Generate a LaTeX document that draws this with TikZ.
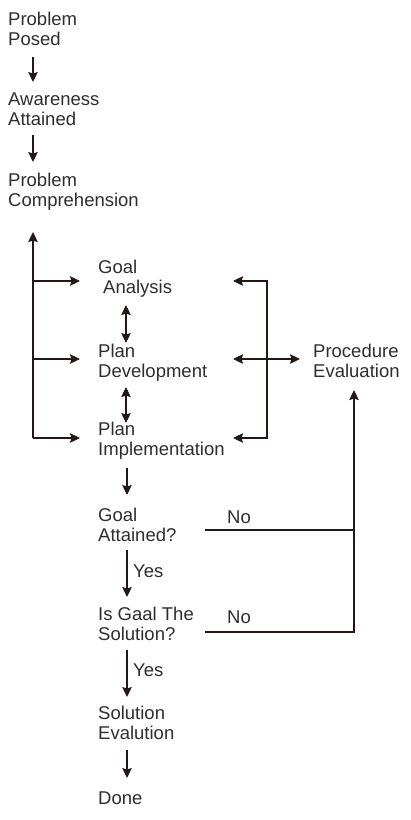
\documentclass[tikz,border=0pt]{standalone}
\usepackage{fontspec}
\setmainfont{Liberation Sans}
\usetikzlibrary{arrows.meta}
\definecolor{ink}{HTML}{231815}
\definecolor{txt}{HTML}{2E2E2E}
\newcommand\twolines[2]{\vtop{\hbox{#1}\hbox{#2}}}
\tikzset{
  lbl/.style={anchor=base west, inner sep=0pt, text=txt,
    font=\fontsize{18.5}{20.5}\selectfont},
  tip/.tip={Stealth[length=10pt,width=9.5pt,inset=1.5pt]},
  arr/.style={draw=ink, line width=1.3pt, -tip},
  darr/.style={draw=ink, line width=1.3pt, tip-tip},
  ln/.style={draw=ink, line width=1.3pt}
}
\begin{document}
\begin{tikzpicture}[x=1pt,y=-1pt]
\useasboundingbox[fill=white] (0,0) rectangle (410,820);
% nodes
\node[lbl] (pp)  at (8,25)   {\twolines{Problem}{Posed}};
\node[lbl] (aa)  at (8,105)  {\twolines{Awareness}{Attained}};
\node[lbl] (pc)  at (8,186)  {\twolines{Problem}{Comprehension}};
\node[lbl] (ga)  at (98,273) {\twolines{Goal}{\hspace*{5pt}Analysis}};
\node[lbl] (pd)  at (98,357) {\twolines{Plan}{Development}};
\node[lbl] (pi)  at (98,435) {\twolines{Plan}{Implementation}};
\node[lbl] (pe)  at (313,357) {\twolines{Procedure}{Evaluation}};
\node[lbl] (gat) at (98,521) {\twolines{Goal}{Attained?}};
\node[lbl] (gs)  at (98,620) {\twolines{Is Gaal The}{Solution?}};
\node[lbl] (se)  at (98,719) {\twolines{Solution}{Evalution}};
\node[lbl] (dn)  at (98,804) {Done};
\node[lbl] (no1) at (227,523) {No};
\node[lbl] (no2) at (227,623) {No};
\node[lbl] (y1)  at (133,577) {Yes};
\node[lbl] (y2)  at (133,676) {Yes};
% top chain
\draw[arr] ([shift={(25,32)}]pp.base west) -- ([shift={(25,-23)}]aa.base west);
\draw[arr] ([shift={(25,30)}]aa.base west) -- ([shift={(25,-24)}]pc.base west);
% left feedback line
\draw[arr] ([shift={(-65,3)}]pi.base west) -- ([shift={(25,46)}]pc.base west);
\draw[arr] ([shift={(-65,8)}]ga.base west) -- ([shift={(-18,8)}]ga.base west);
\draw[arr] ([shift={(-65,2)}]pd.base west) -- ([shift={(-18,2)}]pd.base west);
\draw[arr] ([shift={(-65,3)}]pi.base west) -- ([shift={(-18,3)}]pi.base west);
% double arrows between plan steps
\draw[darr] ([shift={(28,32)}]ga.base west) -- ([shift={(28,-14)}]pd.base west);
\draw[darr] ([shift={(28,30)}]pd.base west) -- ([shift={(28,-12)}]pi.base west);
% right bracket
\draw[darr] ([shift={(135,8)}]ga.base west) -| ([shift={(169,3)}]pi.base west) -- ([shift={(135,3)}]pi.base west);
\draw[darr] ([shift={(135,2)}]pd.base west) -- ([shift={(-13,2)}]pe.base west);
% main chain
\draw[arr] ([shift={(29,33)}]pi.base west) -- ([shift={(29,-26)}]gat.base west);
\draw[arr] ([shift={(29,29)}]gat.base west) -- ([shift={(29,-23)}]gs.base west);
\draw[arr] ([shift={(29,30)}]gs.base west) -- ([shift={(29,-22)}]se.base west);
\draw[arr] ([shift={(29,31)}]se.base west) -- ([shift={(29,-26)}]dn.base west);
% No branches
\coordinate (peIn) at ([shift={(41,33)}]pe.base west);
\coordinate (gatOut) at ([shift={(107,9)}]gat.base west);
\draw[arr] ([shift={(107,12)}]gs.base west) -| (peIn);
\draw[ln] (gatOut) -- (gatOut -| peIn);
\end{tikzpicture}
\end{document}
